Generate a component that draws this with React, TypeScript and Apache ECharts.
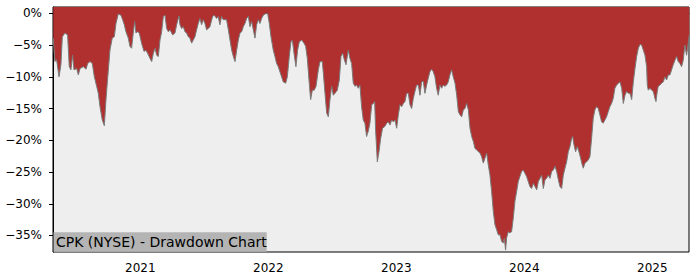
import React, { useEffect, useRef } from "react";
import * as echarts from "echarts";

// Decimal year of each reading, and drawdown in percent
const years: number[] = [
  2020.320, 2020.333, 2020.346, 2020.365, 2020.380, 2020.391, 2020.411, 2020.432, 2020.445, 2020.458,
  2020.471, 2020.482, 2020.503, 2020.516, 2020.529, 2020.555, 2020.576, 2020.589, 2020.607, 2020.625,
  2020.641, 2020.659, 2020.672, 2020.685, 2020.703, 2020.719, 2020.732, 2020.742, 2020.763, 2020.781,
  2020.797, 2020.810, 2020.828, 2020.849, 2020.862, 2020.875, 2020.888, 2020.906, 2020.919, 2020.932,
  2020.945, 2020.956, 2020.966, 2020.979, 2020.992, 2021.010, 2021.029, 2021.044, 2021.057, 2021.076,
  2021.089, 2021.102, 2021.115, 2021.128, 2021.141, 2021.154, 2021.167, 2021.180, 2021.193, 2021.206,
  2021.219, 2021.232, 2021.253, 2021.271, 2021.284, 2021.302, 2021.310, 2021.323, 2021.336, 2021.349,
  2021.362, 2021.375, 2021.388, 2021.401, 2021.414, 2021.427, 2021.440, 2021.453, 2021.466, 2021.479,
  2021.492, 2021.505, 2021.518, 2021.531, 2021.544, 2021.565, 2021.578, 2021.596, 2021.609, 2021.622,
  2021.635, 2021.648, 2021.674, 2021.688, 2021.701, 2021.714, 2021.727, 2021.740, 2021.753, 2021.766,
  2021.779, 2021.792, 2021.805, 2021.818, 2021.831, 2021.844, 2021.857, 2021.870, 2021.883, 2021.896,
  2021.909, 2021.922, 2021.935, 2021.948, 2021.961, 2021.974, 2021.995, 2022.008, 2022.021, 2022.039,
  2022.052, 2022.065, 2022.078,
  2022.099, 2022.117, 2022.136, 2022.149, 2022.164, 2022.177, 2022.188, 2022.201, 2022.216, 2022.229,
  2022.242, 2022.261, 2022.279, 2022.292, 2022.305, 2022.318, 2022.331, 2022.344, 2022.359, 2022.373,
  2022.391, 2022.404, 2022.422, 2022.430, 2022.443, 2022.456, 2022.469, 2022.482, 2022.495, 2022.508,
  2022.521, 2022.539, 2022.555, 2022.568, 2022.581, 2022.594, 2022.607, 2022.625, 2022.638, 2022.651,
  2022.664, 2022.677, 2022.690, 2022.703, 2022.716, 2022.729, 2022.742, 2022.755, 2022.768, 2022.781,
  2022.794,
  2022.808, 2022.821, 2022.831, 2022.839, 2022.852, 2022.865, 2022.878, 2022.893, 2022.912, 2022.925,
  2022.938, 2022.951, 2022.964, 2022.977, 2022.990, 2023.003, 2023.016, 2023.029, 2023.042, 2023.055,
  2023.068, 2023.081, 2023.094, 2023.107, 2023.120, 2023.133, 2023.146, 2023.159, 2023.172, 2023.185,
  2023.198, 2023.211, 2023.224, 2023.237, 2023.250, 2023.263, 2023.276, 2023.289, 2023.302, 2023.315,
  2023.328, 2023.341, 2023.354, 2023.367, 2023.380, 2023.393, 2023.406, 2023.419, 2023.432, 2023.445,
  2023.459, 2023.472, 2023.485, 2023.498, 2023.511, 2023.524, 2023.537, 2023.550, 2023.563, 2023.576,
  2023.589, 2023.602, 2023.615, 2023.628, 2023.641, 2023.654, 2023.667, 2023.680, 2023.693, 2023.706,
  2023.719, 2023.732, 2023.745, 2023.758, 2023.771, 2023.784, 2023.797, 2023.810, 2023.823, 2023.836,
  2023.844, 2023.854, 2023.862, 2023.875, 2023.888, 2023.901, 2023.914, 2023.927, 2023.940, 2023.953,
  2023.966, 2023.979, 2023.992, 2024.005, 2024.018, 2024.031, 2024.044,
  2024.057, 2024.071, 2024.084, 2024.097, 2024.110, 2024.123, 2024.136, 2024.149, 2024.162, 2024.175,
  2024.188, 2024.201, 2024.214, 2024.227, 2024.240, 2024.253, 2024.266, 2024.279, 2024.292, 2024.305,
  2024.318, 2024.331, 2024.344, 2024.357, 2024.370, 2024.378, 2024.388, 2024.401, 2024.414, 2024.427,
  2024.440, 2024.453, 2024.461, 2024.474, 2024.487, 2024.500, 2024.513, 2024.526, 2024.539, 2024.552,
  2024.565, 2024.578, 2024.591, 2024.604, 2024.617, 2024.630, 2024.643, 2024.656, 2024.669, 2024.682,
  2024.695, 2024.708, 2024.722, 2024.735, 2024.748, 2024.761, 2024.774, 2024.787, 2024.800, 2024.813,
  2024.826, 2024.839, 2024.852, 2024.865, 2024.878, 2024.891, 2024.904, 2024.917, 2024.930, 2024.943,
  2024.956, 2024.961, 2024.969, 2024.982, 2024.995, 2025.008, 2025.021, 2025.029, 2025.039, 2025.047,
  2025.060, 2025.073, 2025.086, 2025.099, 2025.112, 2025.125, 2025.138, 2025.151, 2025.164, 2025.177,
  2025.190, 2025.203, 2025.216, 2025.229, 2025.242, 2025.255, 2025.268, 2025.276, 2025.289,
];

const drawdown: number[] = [
  -3.9, -7.6, -7.3, -10.0, -8.1, -3.7, -3.1, -3.4, -8.4, -8.9,
  -6.6, -8.9, -8.7, -9.7, -8.7, -8.4, -8.8, -7.9, -7.6, -7.9,
  -10.0, -11.5, -12.6, -14.7, -16.8, -17.7, -13.6, -11.0, -5.8, -3.9,
  -3.7, -1.6, -0.1, -0.3, -1.0, -1.8, -2.9, -3.9, -5.2, -5.5,
  -3.1, -1.3, -3.1, -2.9, -3.1, -4.7, -6.0, -5.8, -6.3, -7.1,
  -7.6, -6.3, -5.5, -6.6, -6.8, -4.2, -2.9, -0.5, -0.3, -2.4,
  -2.9, -2.6, -3.4, -3.1, -1.8, -0.4, -1.8, -2.4, -2.1, -2.9,
  -3.1, -3.7, -3.9, -4.7, -4.2, -3.7, -2.6, -1.6, -0.8, -1.8,
  -1.0, -1.6, -2.6, -2.4, -2.1, -0.5, -0.3, -0.8, -0.5, -1.8,
  -0.5, -1.0, -1.0, -2.6, -4.2, -5.8, -6.8, -7.6, -5.8, -4.2,
  -3.1, -2.9, -2.1, -1.6, -0.8, -0.5, -2.1, -1.3, -2.6, -3.9,
  -1.8, -1.0, -1.6, -0.8, -0.3, -0.1, 0.0, -1.6, -3.7, -5.8,
  -6.8, -7.9, -8.4,
  -9.7, -10.8, -11.0, -10.0, -6.8, -4.5, -4.2, -6.3, -8.4, -5.8,
  -4.5, -4.2, -4.7, -5.2, -7.1, -10.5, -13.6, -12.1, -12.1, -11.5,
  -8.9, -7.6, -7.6, -9.4, -12.6, -15.7, -16.3, -13.6, -11.5, -12.9,
  -12.6, -12.1, -10.5, -6.8, -6.3, -7.3, -8.1, -5.8, -7.1, -7.9,
  -11.0, -11.5, -11.3, -11.8, -11.3, -14.7, -16.8, -17.3, -19.4, -18.6,
  -17.3,
  -14.4, -14.2, -13.9, -18.6, -23.4, -21.8, -19.7, -18.1, -17.8, -17.3,
  -17.1, -17.6, -16.8, -17.1, -16.8, -18.1, -16.0, -14.4, -14.7, -14.2,
  -13.9, -12.6, -12.6, -14.4, -15.0, -13.4, -12.3, -11.3, -11.3, -12.9,
  -10.8, -10.7, -12.6, -11.3, -10.2, -9.2, -8.8, -9.2, -10.0, -11.8,
  -12.9, -11.3, -11.8, -11.3, -11.5, -11.3, -10.8, -9.7, -8.9, -10.0,
  -11.0, -12.9, -15.5, -16.0, -16.3, -15.2, -15.0, -14.2, -15.2, -18.1,
  -19.4, -20.2, -21.3, -21.5, -21.8, -22.0, -22.6, -23.6, -22.8, -22.0,
  -23.9, -25.5, -28.1, -31.2, -33.3, -34.1, -34.9, -34.9, -35.9, -36.2,
  -35.4, -37.3, -35.4, -34.4, -34.6, -34.4, -32.3, -29.6, -28.1, -26.5,
  -25.7, -24.9, -24.7, -25.2, -25.7, -26.5, -27.3,
  -27.6, -26.8, -27.3, -27.8, -26.5, -26.0, -25.5, -27.6, -26.2, -26.0,
  -25.5, -26.0, -24.9, -24.7, -24.1, -24.9, -26.2, -27.3, -27.6, -25.5,
  -24.4, -23.4, -21.8, -21.0, -19.7, -19.4, -20.7, -21.8, -21.0, -21.8,
  -22.8, -23.9, -24.4, -23.6, -23.4, -23.1, -22.6, -19.7, -16.5, -15.2,
  -14.7, -15.0, -16.0, -17.1, -17.3, -16.8, -16.3, -15.5, -14.7, -14.2,
  -13.4, -11.8, -11.3, -11.0, -10.8, -11.8, -14.2, -12.9, -12.3, -12.6,
  -12.6, -13.6, -10.8, -8.7, -6.8, -5.5, -4.9, -5.0, -5.8, -6.6,
  -8.4, -11.3, -12.1, -11.8, -12.1, -12.3, -13.4, -13.9, -12.3, -11.5,
  -11.3, -11.0, -10.8, -10.0, -10.5, -9.7, -9.7, -8.9, -8.1, -7.4,
  -6.8, -7.6, -7.9, -8.4, -7.4, -5.0, -6.6, -5.5, -3.4,
];

const yTicks: number[] = [0, -5, -10, -15, -20, -25, -30, -35];
const xTicks: number[] = [2021, 2022, 2023, 2024, 2025];
const titleText = "CPK (NYSE) - Drawdown Chart";

const FONT = "DejaVu Sans";

export default function App() {
  const ref = useRef<HTMLDivElement>(null);

  useEffect(() => {
    if (!ref.current) return;
    const chart = echarts.init(ref.current, undefined, { renderer: "svg" });
    const data = years.map((y, i) => [y, drawdown[i]]);
    chart.setOption({
      animation: false,
      backgroundColor: "#ffffff",
      grid: {
        left: 53,
        right: 11,
        top: 7,
        bottom: 28,
        show: true,
        backgroundColor: "#eeeeee",
        borderColor: "#000000",
        borderWidth: 1,
      },
      xAxis: {
        type: "value",
        min: 2020.318,
        max: 2025.287,
        splitLine: { show: false },
        axisLine: { show: true, lineStyle: { color: "#000", width: 1 } },
        axisTick: {
          show: true,
          length: 4,
          lineStyle: { color: "#000" },
          customValues: xTicks,
        },
        axisLabel: {
          color: "#000",
          fontFamily: FONT,
          fontSize: 12,
          margin: 10,
          customValues: xTicks,
          formatter: (v: number) => String(Math.round(v)),
        },
      },
      yAxis: {
        type: "value",
        min: -37.6,
        max: 1.0,
        splitLine: { show: false },
        axisLine: { show: true, lineStyle: { color: "#000", width: 1 } },
        axisTick: {
          show: true,
          length: 4,
          lineStyle: { color: "#000" },
          customValues: yTicks,
        },
        axisLabel: {
          color: "#000",
          fontFamily: FONT,
          fontSize: 12,
          margin: 11,
          customValues: yTicks,
          formatter: (v: number) =>
            (v < 0 ? "\u2212" : "") + Math.abs(Math.round(v)) + "%",
        },
      },
      series: [
        {
          type: "line",
          data,
          symbol: "none",
          lineStyle: { color: "#7a7a7a", width: 1 },
          areaStyle: { color: "#b03030", opacity: 1, origin: "end" },
          z: 2,
        },
      ],
      graphic: [
        {
          type: "rect",
          x: 53.5,
          y: 232.3,
          shape: { width: 213.2, height: 19.5 },
          style: { fill: "#b4b4b4" },
          z: 10,
        },
        {
          type: "text",
          x: 56,
          y: 241.8,
          style: {
            text: titleText,
            fill: "#000",
            font: `14px "${FONT}"`,
            verticalAlign: "middle",
            align: "left",
          },
          z: 11,
        },
      ],
    });
    return () => chart.dispose();
  }, []);

  return (
    <div
      ref={ref}
      style={{ position: "fixed", left: 0, top: 0, width: 700, height: 280 }}
    />
  );
}
